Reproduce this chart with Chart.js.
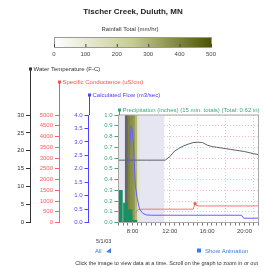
<!DOCTYPE html>
<html>
<head>
<meta charset="utf-8">
<script src="https://cdn.jsdelivr.net/npm/chart.js@4/dist/chart.umd.min.js"></script>
<style>
  html, body { margin: 0; padding: 0; background: #fff; }
  canvas { display: block; }
</style>
</head>
<body>
<canvas id="c" width="264" height="268"></canvas>
<script>
// time is hours of the day
const hoursTemp = [6.5, 7.5, 8.5, 9.5, 10.5, 11.5, 12, 12.5, 13, 13.5, 14, 14.5, 15, 15.5, 16, 16.5, 17, 17.5, 18, 18.5, 19, 19.5, 20, 20.5, 21, 21.5];
const waterTemp = [17.4, 17.4, 17.4, 17.4, 17.4, 17.4, 18.4, 19.9, 20.7, 21.4, 21.9, 22.3, 22.4, 22.3, 21.6, 21.2, 21.0, 20.8, 20.6, 20.4, 20.2, 20.0, 19.8, 19.5, 19.2, 18.9];

const hoursCond = [7.5, 8.3, 8.6, 9.0, 10, 11, 12, 13, 14, 14.5, 14.7, 14.9, 16, 18, 20, 21.5];
const conductance = [430, 440, 600, 620, 620, 620, 620, 620, 620, 620, 880, 770, 770, 770, 770, 770];

const hoursFlow = [7.6, 7.85, 8.0, 8.15, 8.3, 8.5, 8.75, 9.1, 9.5, 10, 12, 14, 16, 18, 19.7, 19.9, 21.5];
const flow = [2.2, 3.6, 3.4, 2.6, 1.4, 0.9, 0.5, 0.34, 0.28, 0.27, 0.27, 0.27, 0.27, 0.27, 0.27, 0.16, 0.16];

const hoursPrecip = [6.7, 7.25, 7.75, 8.25];
const precip = [0.30, 0.18, 0.12, 0.02];

const rainHours = [7.5, 7.75, 8.0, 8.25, 8.5];
const rainRate = [400, 380, 360, 290, 120];
const rainStep = 0.25;
const rainTicks = [0, 100, 200, 300, 400, 500];

const shadeHours = [6.5, 11.4];
const cursorHour = 7.35;

const xLabelHours = [8, 12, 16, 20];
const gridHours = [9, 12, 15, 18, 21];

const FONT = '"Liberation Sans", Arial, sans-serif';

function mix(a, b, t) {
  const pa = [1, 3, 5].map(i => parseInt(a.substr(i, 2), 16));
  const pb = [1, 3, 5].map(i => parseInt(b.substr(i, 2), 16));
  return 'rgb(' + pa.map((v, i) => Math.round(v + (pb[i] - v) * t)).join(',') + ')';
}
function rainColor(r) {
  const t = Math.min(1, r / 500);
  return t < 0.5 ? mix('#ffffff', '#c6cc94', t / 0.5) : mix('#c6cc94', '#4e5300', (t - 0.5) / 0.5);
}

function yAxis(color, min, max, step, weight, width, fmt) {
  return {
    type: 'linear', position: 'left', weight: weight, min: min, max: max,
    ticks: { stepSize: step, color: color, padding: 2, font: { size: 6, family: FONT }, callback: fmt },
    grid: { drawOnChartArea: false, color: color, tickColor: color, tickLength: 4 },
    border: { color: color, width: 1 },
    afterFit: s => { s.width = width; }
  };
}

const yCond = yAxis('#ff6060', 0, 5000, 500, 2, 29, v => v);
yCond.grid.drawOnChartArea = true;
yCond.grid.color = '#f8bcc8';
yCond.border.dash = [1, 2];

const deco = {
  id: 'deco',
  beforeDatasetsDraw(chart) {
    const { ctx, chartArea: a, scales: { x } } = chart;
    ctx.save();
    ctx.beginPath();
    ctx.rect(a.left, a.top, a.width, a.height);
    ctx.clip();
    const s0 = x.getPixelForValue(shadeHours[0]), s1 = x.getPixelForValue(shadeHours[1]);
    ctx.fillStyle = '#e6e6f3';
    ctx.fillRect(s0, a.top, s1 - s0, a.height);
    rainHours.forEach((h, i) => {
      const x0 = x.getPixelForValue(h), x1 = x.getPixelForValue(h + rainStep);
      ctx.fillStyle = rainColor(rainRate[i]);
      ctx.fillRect(x0, a.top, x1 - x0 + 0.5, a.height);
    });
    const cx = x.getPixelForValue(cursorHour);
    ctx.fillStyle = '#666666';
    ctx.fillRect(cx - 1.5, a.top, 3, a.height);
    ctx.restore();
  },
  afterDraw(chart) {
    const { ctx, chartArea: a, scales } = chart;
    ctx.save();
    // plot frame
    ctx.strokeStyle = '#a8a8a8';
    ctx.lineWidth = 1;
    ctx.strokeRect(a.left, a.top, a.width, a.height);

    // title
    ctx.fillStyle = '#222';
    ctx.textAlign = 'center';
    ctx.textBaseline = 'middle';
    ctx.font = 'bold 8px ' + FONT;
    ctx.fillText('Tischer Creek, Duluth, MN', 133, 12);

    // colour bar
    ctx.font = '6px ' + FONT;
    ctx.fillStyle = '#333';
    ctx.fillText('Rainfall Total (mm/hr)', 130, 29);
    const cb = { l: 54, r: 211, t: 37, b: 47 };
    const g = ctx.createLinearGradient(cb.l, 0, cb.r, 0);
    g.addColorStop(0, '#ffffff');
    g.addColorStop(0.5, '#c6cc94');
    g.addColorStop(1, '#4e5300');
    ctx.fillStyle = g;
    ctx.fillRect(cb.l, cb.t, cb.r - cb.l, cb.b - cb.t);
    ctx.strokeStyle = '#999';
    ctx.strokeRect(cb.l + 0.5, cb.t + 0.5, cb.r - cb.l, cb.b - cb.t);
    ctx.fillStyle = '#444';
    rainTicks.forEach(v => {
      const px = cb.l + (v / 500) * (cb.r - cb.l);
      ctx.fillRect(px, cb.b - 3, 1, 3);
      ctx.fillText(String(v), px, 54);
    });

    // axis titles on stepped lines
    const titles = [
      ['yTemp', 'Water Temperature (F-C)', 69, '#333'],
      ['yCond', 'Specific Conductance (uS/cm)', 82, '#ff5050'],
      ['yFlow', 'Calculated Flow (m3/sec)', 95, '#5040ff'],
      ['yPrecip', 'Precipitation (inches) (15 min. totals) (Total: 0.62 in)', 110, '#3aa878']
    ];
    ctx.textAlign = 'left';
    titles.forEach(([id, text, ty, col]) => {
      const s = scales[id];
      const lx = Math.round(s.right) + 0.5;
      ctx.strokeStyle = col;
      ctx.beginPath();
      ctx.moveTo(lx, ty);
      ctx.lineTo(lx, a.top);
      ctx.stroke();
      ctx.fillStyle = col;
      ctx.fillRect(lx - 1.5, ty - 1.5, 3, 3);
      ctx.font = '6px ' + FONT;
      ctx.fillText(text, lx + 3, ty);
    });

    // date + links + caption
    ctx.fillStyle = '#444';
    ctx.font = '5.5px ' + FONT;
    ctx.fillText('5/1/03', 96, 241);
    ctx.fillStyle = '#3b7de0';
    ctx.font = '6px ' + FONT;
    ctx.fillText('All', 95, 251);
    ctx.beginPath();
    ctx.moveTo(106, 252); ctx.lineTo(111, 248); ctx.lineTo(111, 253); ctx.closePath();
    ctx.fill();
    ctx.fillRect(197, 248.5, 4, 4);
    ctx.fillText('Show Animation', 205, 251);
    ctx.fillStyle = '#333';
    ctx.font = '5.5px ' + FONT;
    ctx.textAlign = 'right';
    ctx.fillText('Click the image to view data at a time. Scroll on the graph to zoom in or out', 258, 263);
    ctx.restore();
  }
};

new Chart(document.getElementById('c'), {
  type: 'line',
  data: {
    datasets: [
      {
        type: 'bar', label: 'Precipitation', yAxisID: 'yPrecip', order: 0,
        data: hoursPrecip.map((h, i) => ({ x: h, y: precip[i] })),
        backgroundColor: '#1b8f62', barThickness: 4
      },
      {
        label: 'Flow', yAxisID: 'yFlow', order: 1,
        data: hoursFlow.map((h, i) => ({ x: h, y: flow[i] })),
        borderColor: '#6a5cff', borderWidth: 1, pointRadius: 0, tension: 0
      },
      {
        label: 'Water Temperature', yAxisID: 'yTemp', order: 2,
        data: hoursTemp.map((h, i) => ({ x: h, y: waterTemp[i] })),
        borderColor: '#606060', borderWidth: 1, pointRadius: 0, tension: 0
      },
      {
        label: 'Specific Conductance', yAxisID: 'yCond', order: 3,
        data: hoursCond.map((h, i) => ({ x: h, y: conductance[i] })),
        borderColor: '#ff7070', backgroundColor: '#ff5050', borderWidth: 1, tension: 0,
        pointRadius: c => (conductance[c.dataIndex] > 800 ? 1.6 : 0), pointBorderWidth: 0
      }
    ]
  },
  options: {
    responsive: false,
    animation: false,
    events: [],
    layout: { padding: { top: 115, left: 0, right: 5.5, bottom: 33.5 } },
    plugins: { legend: { display: false }, tooltip: { enabled: false } },
    scales: {
      x: {
        type: 'linear', min: 6.5, max: 21.5, offset: false,
        ticks: {
          stepSize: 0.5, autoSkip: false, maxRotation: 0, maxTicksLimit: 100, padding: 2,
          color: '#444', font: { size: 6, family: FONT },
          callback: v => (xLabelHours.includes(v) ? v + ':00' : '')
        },
        grid: {
          offset: false, tickLength: 3, tickColor: '#777',
          color: c => (c.tick && gridHours.includes(c.tick.value) ? '#f8bcc8' : 'rgba(0,0,0,0)')
        },
        border: { color: '#888', dash: [1, 2] },
        afterFit: s => { s.height = 12; }
      },
      yPrecip: yAxis('#3aa878', 0, 1, 0.1, 0, 30, v => v.toFixed(1)),
      yFlow: yAxis('#5040ff', 0, 4, 0.5, 1, 29.5, v => v.toFixed(1)),
      yCond: yCond,
      yTemp: yAxis('#333333', 0, 30, 5, 3, 30, v => v)
    }
  },
  plugins: [deco]
});
</script>
</body>
</html>
